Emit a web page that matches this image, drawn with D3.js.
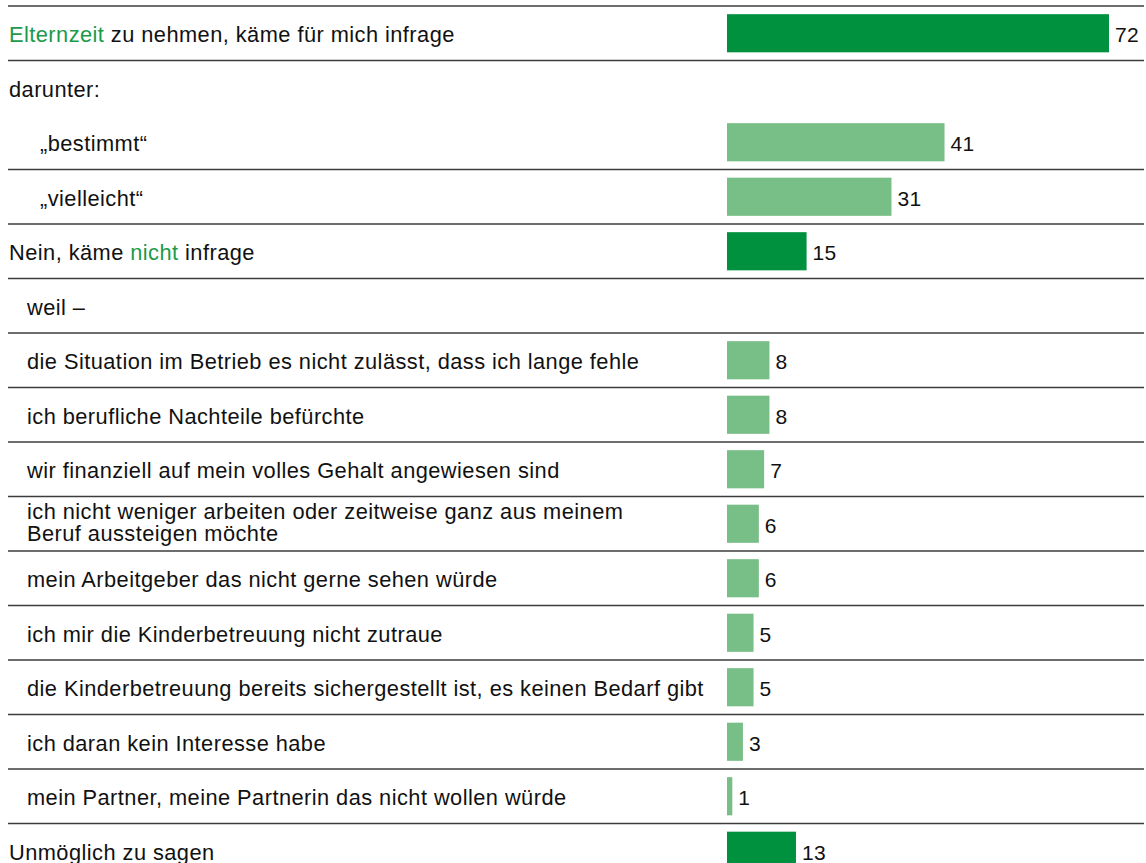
<!DOCTYPE html>
<html>
<head>
<meta charset="utf-8">
<script src="https://cdn.jsdelivr.net/npm/d3@7"></script>
<style>
  html, body { margin: 0; padding: 0; background: #fff; }
  svg { display: block; font-family: "Liberation Sans", Arial, sans-serif; }
</style>
</head>
<body>
<div id="chart"></div>
<script>
// rows of the table, top to bottom
const labels = [
  ['Elternzeit', ' zu nehmen, käme für mich infrage'],
  ['darunter:'],
  ['„bestimmt“'],
  ['„vielleicht“'],
  ['Nein, käme ', 'nicht', ' infrage'],
  ['weil –'],
  ['die Situation im Betrieb es nicht zulässt, dass ich lange fehle'],
  ['ich berufliche Nachteile befürchte'],
  ['wir finanziell auf mein volles Gehalt angewiesen sind'],
  ['ich nicht weniger arbeiten oder zeitweise ganz aus meinem', 'Beruf aussteigen möchte'],
  ['mein Arbeitgeber das nicht gerne sehen würde'],
  ['ich mir die Kinderbetreuung nicht zutraue'],
  ['die Kinderbetreuung bereits sichergestellt ist, es keinen Bedarf gibt'],
  ['ich daran kein Interesse habe'],
  ['mein Partner, meine Partnerin das nicht wollen würde'],
  ['Unmöglich zu sagen']
];
const values = [72, null, 41, 31, 15, null, 8, 8, 7, 6, 6, 5, 5, 3, 1, 13];
// main = dark bar, flush left; sub = light bar, indented
const kinds = ['main', 'head', 'sub', 'sub', 'main', 'reason-head', 'reason', 'reason', 'reason',
  'reason-wrap', 'reason', 'reason', 'reason', 'reason', 'reason', 'main'];
// which segment of a label is printed in green
const highlight = [[0], [], [], [], [1], [], [], [], [], [], [], [], [], [], [], []];
// no rule below "darunter:"
const noRuleBelow = [1];

const width = 1146, height = 863;
const dark = '#00913f', light = '#78be87', greenText = '#1a9a4a';
const fontSize = 21.8, tracking = 0.45;

const svg = d3.select('#chart').append('svg')
  .attr('width', width)
  .attr('height', height);

const rowH = 54.5;
const topY = 6;
const y = d3.scaleBand()
  .domain(d3.range(labels.length))
  .range([topY, topY + rowH * labels.length])
  .paddingInner(0.3)
  .paddingOuter(0.15);
const x = d3.scaleLinear().domain([0, 72]).range([727, 1109]);

const indent = { main: 9, head: 9, sub: 40, 'reason-head': 27, reason: 27, 'reason-wrap': 27 };

// rules between rows
const rules = [0].concat(d3.range(1, labels.length).filter(i => !noRuleBelow.includes(i - 1)));
svg.append('g').selectAll('line')
  .data(rules)
  .join('line')
  .attr('x1', 8).attr('x2', 1144)
  .attr('y1', i => topY + i * rowH).attr('y2', i => topY + i * rowH)
  .attr('stroke', '#3c3c3c')
  .attr('stroke-width', 1.4);

const rows = svg.append('g').selectAll('g')
  .data(labels.map((l, i) => ({ label: l, value: values[i], kind: kinds[i], hi: highlight[i], i })))
  .join('g')
  .attr('transform', d => `translate(0,${y(d.i) + y.bandwidth() / 2})`);

// labels
rows.each(function(d) {
  const g = d3.select(this);
  if (d.kind === 'reason-wrap') {
    // two lines, set tight
    g.selectAll('text.wrap')
      .data(d.label)
      .join('text')
      .attr('class', 'wrap')
      .attr('x', indent[d.kind])
      .attr('y', (t, k) => -5 + k * 22)
      .attr('font-size', fontSize)
      .attr('letter-spacing', tracking)
      .attr('fill', '#111')
      .text(t => t);
  } else {
    const t = g.append('text')
      .attr('x', indent[d.kind])
      .attr('y', 9)
      .attr('font-size', fontSize)
      .attr('letter-spacing', tracking)
      .attr('fill', '#111');
    t.selectAll('tspan')
      .data(d.label)
      .join('tspan')
      .attr('fill', (s, k) => d.hi.includes(k) ? greenText : '#111')
      .style('white-space', 'pre')
      .text(s => s);
  }
});

// bars
const barRows = rows.filter(d => d.value !== null);
barRows.append('rect')
  .attr('x', x(0))
  .attr('y', -y.bandwidth() / 2)
  .attr('width', d => x(d.value) - x(0))
  .attr('height', y.bandwidth())
  .attr('fill', d => d.kind === 'main' ? dark : light);

barRows.append('text')
  .attr('x', d => x(d.value) + 6)
  .attr('y', 9)
  .attr('font-size', 21)
  .attr('letter-spacing', 0.3)
  .attr('fill', '#111')
  .text(d => d.value);
</script>
</body>
</html>
